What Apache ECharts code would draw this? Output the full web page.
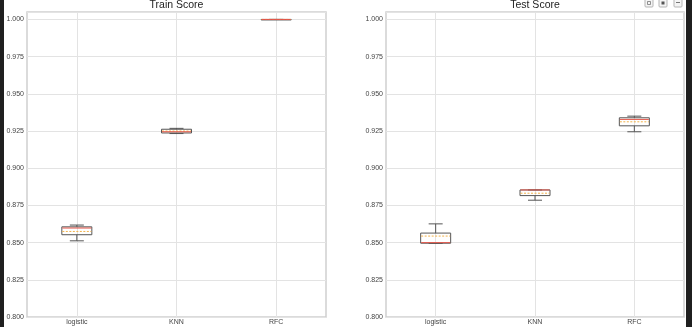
<!DOCTYPE html>
<html>
<head>
<meta charset="utf-8">
<script src="https://cdn.jsdelivr.net/npm/echarts@6/dist/echarts.min.js"></script>
<style>html,body{margin:0;padding:0;background:#fff}#c{width:692px;height:327px}</style>
</head>
<body>
<div id="c"></div>
<script>
const categories = ['logistic', 'KNN', 'RFC'];
const yTicks = [0.800, 0.825, 0.850, 0.875, 0.900, 0.925, 0.950, 0.975, 1.000];

// Train score box statistics
const trainLow    = [0.8512, 0.9233, 1.0000];
const trainQ1     = [0.8553, 0.9237, 1.0000];
const trainMedian = [0.8598, 0.9245, 1.0000];
const trainQ3     = [0.8606, 0.9262, 1.0000];
const trainHigh   = [0.8618, 0.9268, 1.0000];
const trainMean   = [0.8575, 0.9250, 1.0000];

// Test score box statistics
const testLow    = [0.8495, 0.8785, 0.9245];
const testQ1     = [0.8496, 0.8816, 0.9285];
const testMedian = [0.8500, 0.8854, 0.9328];
const testQ3     = [0.8564, 0.8854, 0.9339];
const testHigh   = [0.8626, 0.8854, 0.9350];
const testMean   = [0.8544, 0.8832, 0.9312];

function rows(low, q1, med, q3, high, mean) {
  return categories.map((c, i) => [i, low[i], q1[i], med[i], q3[i], high[i], mean[i]]);
}

function renderBox(params, api) {
  const x = api.value(0);
  const pLow = api.coord([x, api.value(1)]);
  const pQ1 = api.coord([x, api.value(2)]);
  const pMed = api.coord([x, api.value(3)]);
  const pQ3 = api.coord([x, api.value(4)]);
  const pHigh = api.coord([x, api.value(5)]);
  const pMean = api.coord([x, api.value(6)]);
  const cx = pMed[0];
  const bw = 30, cw = 14;
  const edge = '#555555';
  const line = (x1, y1, x2, y2, style) => ({type: 'line', shape: {x1, y1, x2, y2}, style: Object.assign({stroke: edge, lineWidth: 1}, style || {})});
  return {
    type: 'group',
    children: [
      line(cx, pHigh[1], cx, pQ3[1]),
      line(cx, pLow[1], cx, pQ1[1]),
      line(cx - cw / 2, pHigh[1], cx + cw / 2, pHigh[1]),
      line(cx - cw / 2, pLow[1], cx + cw / 2, pLow[1]),
      {type: 'rect', shape: {x: cx - bw / 2, y: pQ3[1], width: bw, height: Math.max(pQ1[1] - pQ3[1], 0.5)},
       style: {fill: 'rgba(255,255,255,0)', stroke: edge, lineWidth: 1}},
      line(cx - bw / 2 + 0.5, pMean[1], cx + bw / 2 - 0.5, pMean[1], {stroke: '#f2b24a', lineDash: [2, 1.5]}),
      line(cx - bw / 2 + 0.5, pMed[1], cx + bw / 2 - 0.5, pMed[1], {stroke: '#e5564a'})
    ]
  };
}

const labelColor = '#444';
function xAxis(gi) {
  return {
    type: 'category', gridIndex: gi, data: categories, boundaryGap: true,
    axisLine: {show: false}, axisTick: {show: false},
    axisLabel: {color: labelColor, fontSize: 7, margin: 2, fontFamily: 'Liberation Sans'},
    splitLine: {show: true, alignWithLabel: true, lineStyle: {color: '#e3e3e3', width: 1}}
  };
}
function yAxis(gi, margin) {
  return {
    type: 'value', gridIndex: gi, min: 0.8, max: 1.005, interval: 0.025,
    axisLine: {show: false}, axisTick: {show: false},
    axisLabel: {color: labelColor, fontSize: 7, margin: margin, fontFamily: 'Liberation Sans',
      showMaxLabel: false,
      formatter: v => yTicks.some(t => Math.abs(t - v) < 1e-9) ? v.toFixed(3) : ''},
    splitLine: {show: true, lineStyle: {color: '#e3e3e3', width: 1}}
  };
}

const chart = echarts.init(document.getElementById('c'), null, {renderer: 'canvas'});
chart.setOption({
  animation: false,
  backgroundColor: '#ffffff',
  title: [
    {text: 'Train Score', left: 176.5, textAlign: 'center', top: 0, padding: 0,
     textStyle: {fontSize: 10.5, fontWeight: 'normal', color: '#222', fontFamily: 'Liberation Sans', lineHeight: 11}},
    {text: 'Test Score', left: 535, textAlign: 'center', top: 0, padding: 0,
     textStyle: {fontSize: 10.5, fontWeight: 'normal', color: '#222', fontFamily: 'Liberation Sans', lineHeight: 11}}
  ],
  grid: [
    {left: 27, top: 12, width: 299, height: 305, show: true, borderColor: '#cfcfcf', borderWidth: 1.5, backgroundColor: 'transparent'},
    {left: 386, top: 12, width: 298, height: 305, show: true, borderColor: '#cfcfcf', borderWidth: 1.5, backgroundColor: 'transparent'}
  ],
  xAxis: [xAxis(0), xAxis(1)],
  yAxis: [yAxis(0, 3), yAxis(1, 3)],
  series: [
    {type: 'custom', xAxisIndex: 0, yAxisIndex: 0, renderItem: renderBox,
     encode: {x: 0, y: [1, 2, 3, 4, 5, 6]},
     data: rows(trainLow, trainQ1, trainMedian, trainQ3, trainHigh, trainMean), z: 5},
    {type: 'custom', xAxisIndex: 1, yAxisIndex: 1, renderItem: renderBox,
     encode: {x: 0, y: [1, 2, 3, 4, 5, 6]},
     data: rows(testLow, testQ1, testMedian, testQ3, testHigh, testMean), z: 5}
  ],
  graphic: [
    {type: 'rect', left: 0, top: 0, shape: {width: 4, height: 327}, style: {fill: '#1f1f1f'}},
    {type: 'rect', left: 686, top: 0, shape: {width: 6, height: 327}, style: {fill: '#1f1f1f'}},
    {type: 'rect', shape: {x: 645, y: -1, width: 8, height: 8, r: 1}, style: {fill: '#f4f4f4', stroke: '#b5b5b5', lineWidth: 1}},
    {type: 'rect', shape: {x: 647.5, y: 1.5, width: 3, height: 3}, style: {fill: 'none', stroke: '#777', lineWidth: 0.8}},
    {type: 'rect', shape: {x: 659, y: -1, width: 8, height: 8, r: 1}, style: {fill: '#f4f4f4', stroke: '#b5b5b5', lineWidth: 1}},
    {type: 'rect', shape: {x: 661.5, y: 1.5, width: 3, height: 3}, style: {fill: '#555'}},
    {type: 'rect', shape: {x: 674, y: -1, width: 8, height: 8, r: 1}, style: {fill: '#f4f4f4', stroke: '#b5b5b5', lineWidth: 1}},
    {type: 'line', shape: {x1: 676, y1: 2.5, x2: 680, y2: 2.5}, style: {stroke: '#777', lineWidth: 1}}
  ]
});
</script>
</body>
</html>
